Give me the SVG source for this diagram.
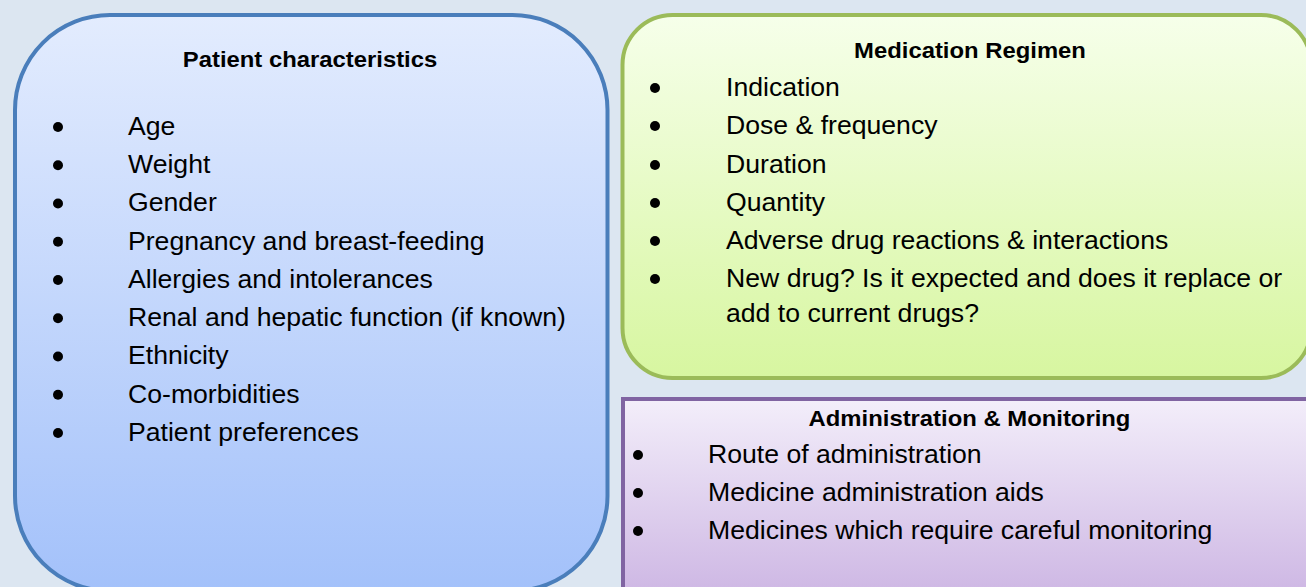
<svg xmlns="http://www.w3.org/2000/svg" width="1306" height="587" viewBox="0 0 1306 587">
  <defs>
    <linearGradient id="gBlue" x1="0" y1="0" x2="0" y2="1">
      <stop offset="0" stop-color="#e3ecfe"/>
      <stop offset="1" stop-color="#a3c1fa"/>
    </linearGradient>
    <linearGradient id="gGreen" x1="0" y1="0" x2="0" y2="1">
      <stop offset="0" stop-color="#f6ffea"/>
      <stop offset="1" stop-color="#d7f6a0"/>
    </linearGradient>
    <linearGradient id="gPurple" x1="0" y1="0" x2="0" y2="1">
      <stop offset="0" stop-color="#f3eefa"/>
      <stop offset="1" stop-color="#c9b0e1"/>
    </linearGradient>
    <style>
      .title { font-family: "Liberation Sans", Arial, sans-serif; font-weight: bold; font-size: 22.4px; fill: #000; text-anchor: middle; }
      .item { font-family: "Liberation Sans", Arial, sans-serif; font-size: 25px; fill: #000; }
      .dot { fill: #000; }
    </style>
  </defs>

  <!-- page background -->
  <rect x="0" y="0" width="1306" height="587" fill="#dce6f1"/>

  <!-- left panel: patient characteristics -->
  <g id="patient">
    <rect x="15" y="15" width="592.5" height="576" rx="95" ry="95" fill="url(#gBlue)" stroke="#4a7ebb" stroke-width="4"/>
    <g transform="translate(310,67) scale(1.065 1)"><text class="title" x="0" y="0">Patient characteristics</text></g>
    <g class="dot">
      <circle cx="58" cy="127" r="5"/>
      <circle cx="58" cy="165.25" r="5"/>
      <circle cx="58" cy="203.5" r="5"/>
      <circle cx="58" cy="241.75" r="5"/>
      <circle cx="58" cy="280" r="5"/>
      <circle cx="58" cy="318.25" r="5"/>
      <circle cx="58" cy="356.5" r="5"/>
      <circle cx="58" cy="394.75" r="5"/>
      <circle cx="58" cy="433" r="5"/>
    </g>
    <g transform="translate(128,0) scale(1.065 1)">
      <text class="item" x="0" y="135">Age</text>
      <text class="item" x="0" y="173.25">Weight</text>
      <text class="item" x="0" y="211.5">Gender</text>
      <text class="item" x="0" y="249.75">Pregnancy and breast-feeding</text>
      <text class="item" x="0" y="288">Allergies and intolerances</text>
      <text class="item" x="0" y="326.25">Renal and hepatic function (if known)</text>
      <text class="item" x="0" y="364.5">Ethnicity</text>
      <text class="item" x="0" y="402.75">Co-morbidities</text>
      <text class="item" x="0" y="441">Patient preferences</text>
    </g>
  </g>

  <!-- top right panel: medication regimen -->
  <g id="regimen">
    <rect x="622.5" y="15" width="688.5" height="363" rx="50" ry="50" fill="url(#gGreen)" stroke="#9bbb59" stroke-width="4"/>
    <g transform="translate(970,58) scale(1.065 1)"><text class="title" x="0" y="0">Medication Regimen</text></g>
    <g class="dot">
      <circle cx="655" cy="88" r="5"/>
      <circle cx="655" cy="126" r="5"/>
      <circle cx="655" cy="165" r="5"/>
      <circle cx="655" cy="203" r="5"/>
      <circle cx="655" cy="241" r="5"/>
      <circle cx="655" cy="279" r="5"/>
    </g>
    <g transform="translate(726,0) scale(1.065 1)">
      <text class="item" x="0" y="96">Indication</text>
      <text class="item" x="0" y="134">Dose &amp; frequency</text>
      <text class="item" x="0" y="173">Duration</text>
      <text class="item" x="0" y="211">Quantity</text>
      <text class="item" x="0" y="249">Adverse drug reactions &amp; interactions</text>
      <text class="item" x="0" y="287">New drug? Is it expected and does it replace or</text>
      <text class="item" x="0" y="322">add to current drugs?</text>
    </g>
  </g>

  <!-- bottom right panel: administration and monitoring -->
  <g id="administration">
    <rect x="623" y="399" width="700" height="220" fill="url(#gPurple)" stroke="#8064a2" stroke-width="4"/>
    <g transform="translate(969.5,426) scale(1.065 1)"><text class="title" x="0" y="0">Administration &amp; Monitoring</text></g>
    <g class="dot">
      <circle cx="638" cy="455" r="5"/>
      <circle cx="638" cy="493" r="5"/>
      <circle cx="638" cy="531" r="5"/>
    </g>
    <g transform="translate(708,0) scale(1.065 1)">
      <text class="item" x="0" y="463">Route of administration</text>
      <text class="item" x="0" y="501">Medicine administration aids</text>
      <text class="item" x="0" y="539">Medicines which require careful monitoring</text>
    </g>
  </g>
</svg>
